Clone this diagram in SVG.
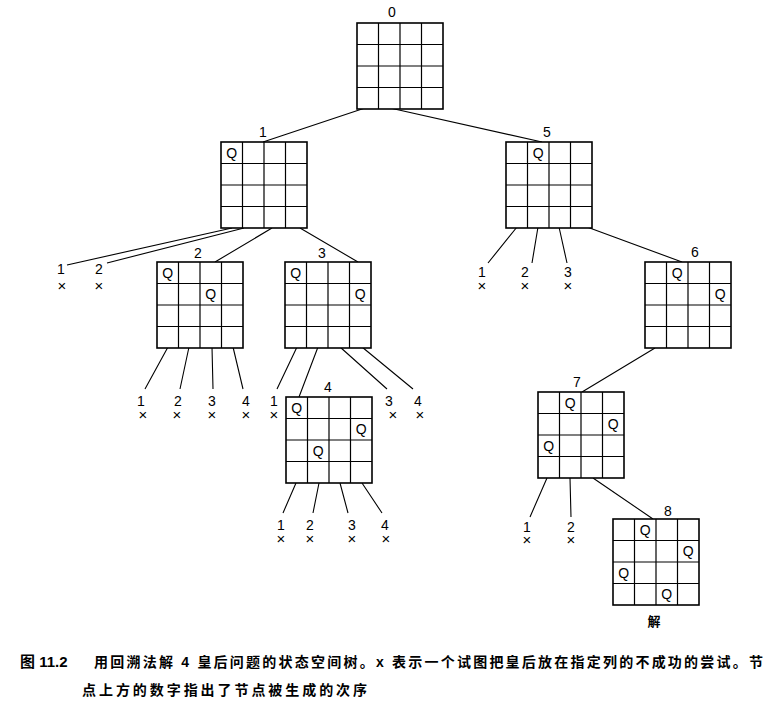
<svg xmlns="http://www.w3.org/2000/svg" width="773" height="707" viewBox="0 0 773 707">
<style>
.b{fill:#fff;stroke:#000;stroke-width:1.6}
.g{stroke:#000;stroke-width:1.2;fill:none}
.e{stroke:#000;stroke-width:1.1;fill:none}
.n{font-family:"Liberation Sans",Arial,sans-serif;font-size:14px;text-anchor:middle;fill:#000}
.q{font-family:"Liberation Sans",Arial,sans-serif;font-size:14px;text-anchor:middle;fill:#000}
.x{font-family:"Liberation Sans",Arial,sans-serif;font-size:15px;text-anchor:middle;fill:#000}
.c{font-family:"Liberation Sans","Noto Sans CJK SC",sans-serif;font-size:14px;font-weight:bold;fill:#000}
</style>
<defs>
<g id="board">
<rect class="b" x="0" y="0" width="86" height="86"/>
<path class="g" d="M21.5 0V86M43 0V86M64.5 0V86M0 21.5H86M0 43H86M0 64.5H86"/>
</g>
</defs>
<rect width="773" height="707" fill="#fff"/>
<g id="connectors">
<path class="e" d="M365 108L263 142M390 108L542 142"/>
<path class="e" d="M232 228L67 265M244 228L107 263M272 228L215 262M300 228L358 262"/>
<path class="e" d="M168 347L145 389M189 347L180 389M212 347L213 389M233 347L243 389"/>
<path class="e" d="M297 347L277 389M318 347L299 397M340 347L387 389M362 347L413 389"/>
<path class="e" d="M296 483L283 513M319 483L313 513M340 483L348 513M362 483L382 513"/>
<path class="e" d="M517 227L488 263M538 227L532 263M559 227L567 263M587 227L682 262"/>
<path class="e" d="M655 348L582 392M547 478L530 517M570 478L571 517M593 478L653 519"/>
</g>
<g id="node0"><use href="#board" x="357" y="23"/><text class="n" x="392" y="17">0</text></g>
<g id="node1"><use href="#board" x="221" y="142"/><text class="n" x="263" y="137">1</text><text class="q" x="231.75" y="157.5">Q</text></g>
<g id="node5"><use href="#board" x="506" y="142"/><text class="n" x="547" y="137">5</text><text class="q" x="538.25" y="157.5">Q</text></g>
<g id="node2"><use href="#board" x="157" y="262"/><text class="n" x="198" y="258">2</text><text class="q" x="167.75" y="277.5">Q</text><text class="q" x="210.75" y="299">Q</text></g>
<g id="node3"><use href="#board" x="285" y="262"/><text class="n" x="322" y="258">3</text><text class="q" x="295.75" y="277.5">Q</text><text class="q" x="360.25" y="299">Q</text></g>
<g id="node4"><use href="#board" x="286" y="397"/><text class="n" x="328" y="392">4</text><text class="q" x="296.75" y="412.5">Q</text><text class="q" x="361.25" y="434">Q</text><text class="q" x="318.25" y="455.5">Q</text></g>
<g id="node6"><use href="#board" x="645" y="262"/><text class="n" x="695" y="257">6</text><text class="q" x="677.25" y="277.5">Q</text><text class="q" x="720.25" y="299">Q</text></g>
<g id="node7"><use href="#board" x="538" y="392"/><text class="n" x="577" y="387">7</text><text class="q" x="570.25" y="407.5">Q</text><text class="q" x="613.25" y="429">Q</text><text class="q" x="548.75" y="450.5">Q</text></g>
<g id="node8"><use href="#board" x="613" y="519"/><text class="n" x="668" y="516">8</text><text class="q" x="645.25" y="534.5">Q</text><text class="q" x="688.25" y="556">Q</text><text class="q" x="623.75" y="577.5">Q</text><text class="q" x="666.75" y="599">Q</text><text class="c" x="654" y="626" text-anchor="middle" style="font-size:13px">解</text></g>
<g id="leaves1"><text class="n" x="61" y="274">1</text><text class="x" x="62" y="291">×</text><text class="n" x="99" y="274">2</text><text class="x" x="99" y="291">×</text></g>
<g id="leaves2"><text class="n" x="141" y="406">1</text><text class="n" x="178" y="406">2</text><text class="n" x="212" y="406">3</text><text class="n" x="246" y="406">4</text><text class="x" x="143" y="420">×</text><text class="x" x="177" y="420">×</text><text class="x" x="212" y="420">×</text><text class="x" x="246" y="420">×</text></g>
<g id="leaves3"><text class="n" x="274" y="406">1</text><text class="x" x="274" y="420">×</text><text class="n" x="389" y="406">3</text><text class="n" x="418" y="406">4</text><text class="x" x="393" y="420">×</text><text class="x" x="420" y="420">×</text></g>
<g id="leaves4"><text class="n" x="281" y="530">1</text><text class="n" x="310" y="530">2</text><text class="n" x="352" y="530">3</text><text class="n" x="385" y="530">4</text><text class="x" x="281" y="544">×</text><text class="x" x="310" y="544">×</text><text class="x" x="352" y="544">×</text><text class="x" x="386" y="544">×</text></g>
<g id="leaves5"><text class="n" x="482" y="277">1</text><text class="n" x="525" y="277">2</text><text class="n" x="568" y="277">3</text><text class="x" x="482" y="291">×</text><text class="x" x="525" y="291">×</text><text class="x" x="568" y="291">×</text></g>
<g id="leaves7"><text class="n" x="527" y="532">1</text><text class="n" x="571" y="532">2</text><text class="x" x="527" y="545">×</text><text class="x" x="571" y="545">×</text></g>
<g id="caption">
<text class="c" x="20" y="667" style="font-size:15px">图 11.2</text>
<text class="c" x="94" y="667" textLength="669" lengthAdjust="spacing">用回溯法解 4 皇后问题的状态空间树。x 表示一个试图把皇后放在指定列的不成功的尝试。节</text>
<text class="c" x="82" y="695" textLength="285" lengthAdjust="spacing">点上方的数字指出了节点被生成的次序</text>
</g>
</svg>
